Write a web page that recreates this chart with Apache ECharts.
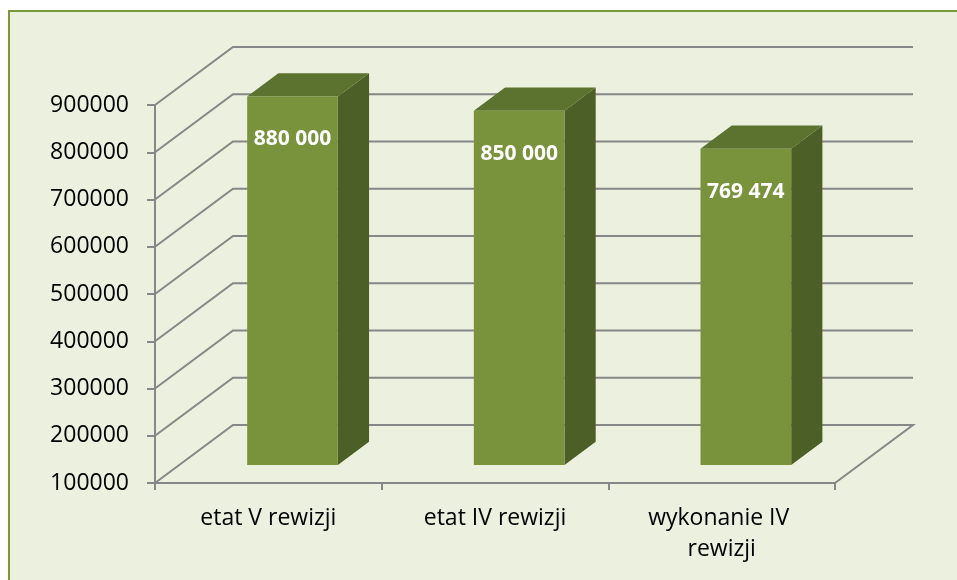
<!DOCTYPE html>
<html>
<head>
<meta charset="utf-8">
<script src="https://cdn.jsdelivr.net/npm/echarts@6/dist/echarts.min.js"></script>
<style>
  html, body { margin: 0; padding: 0; background: #fff; }
  #main { width: 957px; height: 580px; }
</style>
</head>
<body>
<div id="main"></div>
<script>
const categories = ['etat V rewizji', 'etat IV rewizji', 'wykonanie IV rewizji']
const values = [880000, 850000, 769474]
const yTicks = [100000, 200000, 300000, 400000, 500000, 600000, 700000, 800000, 900000]

// depth of the 3d box (back wall offset) and where bars sit in it
const DX = 78, DY = -58
const F0 = 0.31, FD = 0.4

const lineColor = '#878787'

function fmt(v) {
  return String(v).replace(/\B(?=(\d{3})+(?!\d))/g, ' ')
}

let chart = echarts.init(document.getElementById('main'))

let option = {
  animation: false,
  backgroundColor: '#fff',
  graphic: [{
    type: 'rect',
    z: -10,
    shape: { x: 9, y: 11, width: 960, height: 580 },
    style: { fill: '#EBF0DF', stroke: '#7A9A3A', lineWidth: 2 }
  }],
  grid: { left: 155, top: 105, width: 680, height: 378 },
  xAxis: {
    type: 'category',
    data: categories,
    axisLine: { lineStyle: { color: lineColor, width: 2 } },
    axisTick: { show: true, interval: 0, length: 7, lineStyle: { color: lineColor, width: 2 } },
    axisLabel: {
      interval: 0,
      color: '#000', fontFamily: 'Open Sans', fontSize: 23,
      margin: 20, lineHeight: 31, width: 180, overflow: 'break'
    }
  },
  yAxis: {
    type: 'value',
    min: 100000,
    max: 900000,
    interval: 100000,
    axisLine: { show: true, lineStyle: { color: lineColor, width: 2 } },
    axisTick: { show: true, length: 8, lineStyle: { color: lineColor, width: 2 } },
    axisLabel: {
      color: '#000', fontFamily: 'Open Sans', fontSize: 23, margin: 26,
      formatter: v => String(v)
    },
    splitLine: { show: false }
  },
  series: [
    {
      // back wall gridlines + floor
      type: 'custom',
      z: 1,
      data: yTicks.map(v => [0, v]),
      renderItem: function (params, api) {
        let band = api.size([1, 0])[0]
        let p = api.coord([0, api.value(1)])
        let left = p[0] - band / 2
        let right = left + band * categories.length
        let y = p[1]
        let pts = [[left, y], [left + DX, y + DY], [right + DX, y + DY]]
        if (api.value(1) === yTicks[0]) pts.push([right, y])
        return {
          type: 'polyline',
          shape: { points: pts },
          style: { stroke: lineColor, lineWidth: 2, fill: null }
        }
      }
    },
    {
      type: 'custom',
      z: 5,
      data: values.map((v, i) => [i, v]),
      renderItem: function (params, api) {
        let band = api.size([1, 0])[0]
        let w = band * 0.4
        let top = api.coord([api.value(0), api.value(1)])
        let base = api.coord([api.value(0), yTicks[0]])
        let cx = top[0] + F0 * DX
        let x0 = cx - w / 2, x1 = cx + w / 2
        let yt = top[1] + F0 * DY
        let yb = base[1] + F0 * DY
        let ddx = FD * DX, ddy = FD * DY
        return {
          type: 'group',
          children: [
            {
              type: 'polygon',
              shape: { points: [[x1, yt], [x1 + ddx, yt + ddy], [x1 + ddx, yb + ddy], [x1, yb]] },
              style: { fill: '#4C5F27' }
            },
            {
              type: 'polygon',
              shape: { points: [[x0, yt], [x0 + ddx, yt + ddy], [x1 + ddx, yt + ddy], [x1, yt]] },
              style: { fill: '#5C722F' }
            },
            {
              type: 'rect',
              shape: { x: x0, y: yt, width: w, height: yb - yt },
              style: { fill: '#78933C' }
            },
            {
              type: 'text',
              style: {
                x: cx, y: yt + 43,
                text: fmt(api.value(1)),
                fill: '#fff',
                font: 'bold 21px "Open Sans"',
                align: 'center', verticalAlign: 'middle'
              }
            }
          ]
        }
      }
    }
  ]
}

chart.setOption(option)
</script>
</body>
</html>
